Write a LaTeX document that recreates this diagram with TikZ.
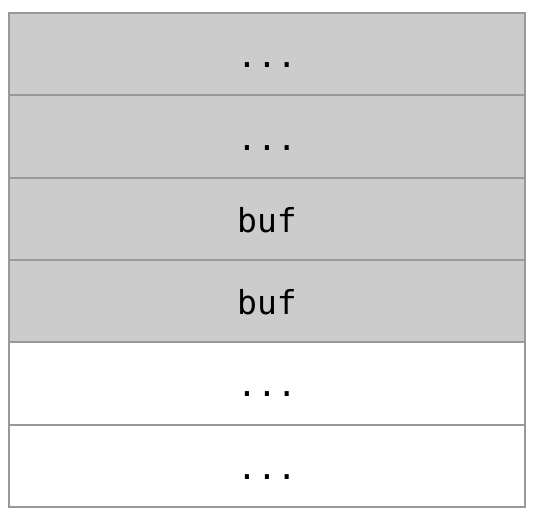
\documentclass[tikz,border=0pt]{standalone}
\usepackage{fontspec}
\setmonofont{DejaVu Sans Mono}
\usetikzlibrary{positioning}
\definecolor{cellgray}{HTML}{CCCCCC}
\definecolor{edgegray}{HTML}{999999}
\begin{document}
\begin{tikzpicture}[
    cell/.style={draw=edgegray, line width=1.8pt, minimum width=516pt, minimum height=82.33pt,
                 inner sep=0pt, outer sep=0pt, text height=27pt, text depth=0pt,
                 font=\fontsize{33}{36}\selectfont\ttfamily},
    used/.style={cell, fill=cellgray},
    free/.style={cell, fill=white},
    node distance=0pt
]
\useasboundingbox (0,0) rectangle (535pt,-515pt);

\node[used, anchor=north west] (r1) at (9pt,-13pt) {...};
\node[used, below=of r1] (r2) {...};
\node[used, below=of r2] (buf1) {buf};
\node[used, below=of buf1] (buf2) {buf};
\node[free, below=of buf2] (r5) {...};
\node[free, below=of r5] (r6) {...};

\end{tikzpicture}
\end{document}
